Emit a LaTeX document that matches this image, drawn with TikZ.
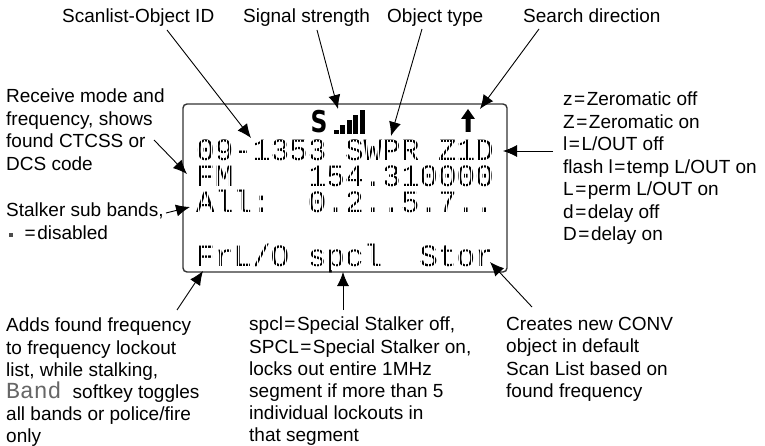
\documentclass[tikz,border=0pt]{standalone}
\usepackage{fontspec}
\setmainfont{Liberation Sans}
\newfontfamily\lcdfont{Liberation Mono}
\newfontfamily\heavyfont{DejaVu Sans}
\usetikzlibrary{arrows.meta}
\newcommand{\eqs}{\kern1.5pt=\kern1.5pt}

\begin{document}
\begin{tikzpicture}
  [x=1pt,y=-1pt,
   note/.style={anchor=north west,inner sep=0pt,align=left,font=\fontsize{19}{22.45}\selectfont},
   tightnote/.style={note,font=\fontsize{19}{22.1}\selectfont},
   lcd/.style={anchor=base west,inner sep=0pt,text=black,text height=21pt,text depth=1pt,font=\lcdfont\fontsize{31}{31}\selectfont},
   pointer/.style={-{Latex[length=14pt,width=12pt]},line width=.9pt}]
  \useasboundingbox (0,0) rectangle (765,446);

  % display
  \draw[line width=1.4pt,rounded corners=4pt,black!80] (183,104) rectangle (507,272);
  \node[lcd] (row1) at (196,161) {09-1353~SWPR~Z1D};
  \node[lcd] (row2) at (196,187) {FM~~~~154.310000};
  \node[lcd] (row3) at (196,213) {All:~~0.2..5.7..};
  \node[lcd] (row4) at (196,266) {FrL/O~spcl~~Stor};
  \draw[white,line width=.6pt,step=3.1] (192,140) grid (497,270);

  \node[anchor=base,inner sep=0pt,xscale=.78,font=\heavyfont\fontsize{30}{30}\selectfont\bfseries] (sig) at (319,133) {S};
  \foreach \i/\top in {0/130,1/125,2/120,3/115,4/110}
    \fill (334+6.4*\i,\top) rectangle (339+6.4*\i,134);
  \fill (468,109) -- (475,119) -- (470.5,119) -- (470.5,132) -- (465.5,132) -- (465.5,119) -- (461,119) -- cycle;

  % labels
  \node[note] (scanlist) at (62,9) {Scanlist-Object ID};
  \node[note] (signal) at (243,9) {Signal strength};
  \node[note] (objtype) at (387,9) {Object type};
  \node[note] (search) at (523,9) {Search direction};
  \node[note] (rxmode) at (6,89) {Receive mode and\\frequency, shows\\found CTCSS or\\DCS code};
  \node[note] (subbands) at (6,203) {Stalker sub bands,\\\hspace{17pt}\eqs disabled};
  \fill[black!70] (9,233) rectangle (13,237);
  \node[note] (flags) at (563,92) {z\eqs Zeromatic off\\Z\eqs Zeromatic on\\l\eqs L/OUT off\\flash l\eqs temp L/OUT on\\L\eqs perm L/OUT on\\d\eqs delay off\\D\eqs delay on};
  \node[tightnote] (adds) at (6,318) {Adds found frequency\\to frequency lockout\\list, while stalking,\\{\lcdfont\fontsize{23}{22.1}\selectfont\color{black!60}Band}\hspace{6pt} softkey toggles\\all bands or police/fire\\only};
  \node[tightnote] (special) at (249,317) {spcl\eqs Special Stalker off,\\SPCL\eqs Special Stalker on,\\locks out entire 1MHz\\segment if more than 5\\individual lockouts in\\that segment};
  \node[note] (creates) at (506,317) {Creates new CONV\\object in default\\Scan List based on\\found frequency};

  % pointers
  \coordinate (a1) at (167,30);  \coordinate (b1) at (251,138);
  \coordinate (a2) at (317,30);  \coordinate (b2) at (338,109);
  \coordinate (a3) at (422,29);  \coordinate (b3) at (391,136);
  \coordinate (a4) at (539,29);  \coordinate (b4) at (480,109);
  \coordinate (a5) at (553,151); \coordinate (b5) at (503,151);
  \coordinate (a6) at (154,140); \coordinate (b6) at (187,174);
  \coordinate (a7) at (166,213); \coordinate (b7) at (190,207);
  \coordinate (a8) at (177,310); \coordinate (b8) at (203,271);
  \coordinate (a9) at (343,310); \coordinate (b9) at (343,272);
  \coordinate (a10) at (532,307); \coordinate (b10) at (490,262);

  \foreach \from/\to in {a1/b1,a2/b2,a3/b3,a4/b4,a5/b5,a6/b6,a7/b7,a8/b8,a9/b9,a10/b10}
    \draw[pointer] (\from) -- (\to);

\end{tikzpicture}
\end{document}
